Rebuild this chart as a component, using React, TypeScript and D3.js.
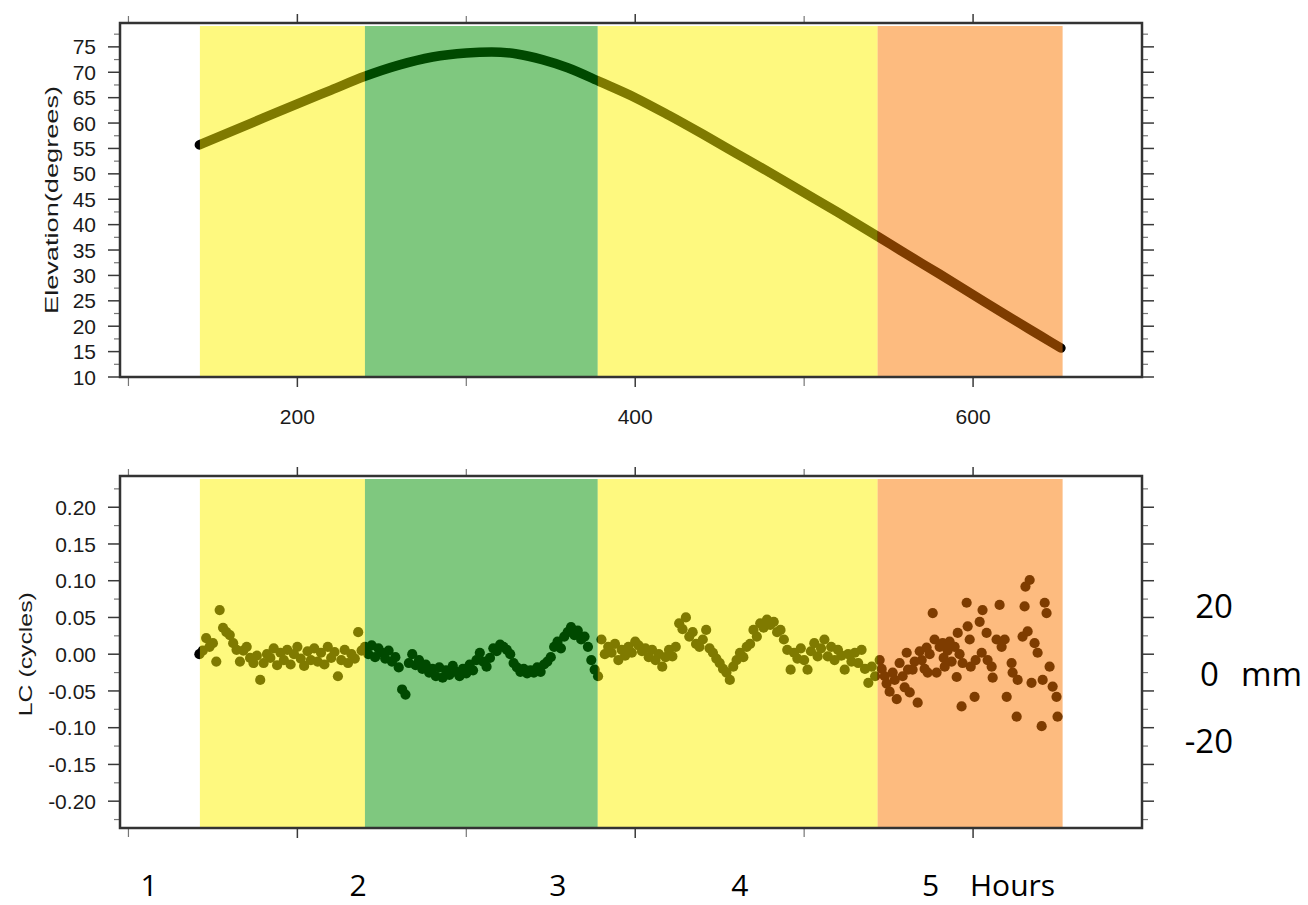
import React from 'react';
import * as d3 from 'd3';

// ---------- data ----------
// elevation curve (x axis units, degrees)
const elevTime = [142, 160, 180, 200, 220, 240, 260, 280, 300, 315, 330, 345, 360, 380, 400, 420, 440, 460, 480, 500, 520, 543, 560, 580, 600, 620, 640, 652];
const elevValue = [55.7, 58.2, 61, 63.8, 66.5, 69.2, 71.4, 73, 73.8, 74, 73.6, 72.5, 70.9, 68, 65, 61.5, 57.8, 54, 50.2, 46.3, 42.4, 37.8, 34.3, 30.3, 26.2, 22.1, 18.1, 15.7];

// LC residuals, regular sampling from lcStart every lcStep (milli-cycles)
const lcStart = 142;
const lcStep = 2;
const lcMilli = [
  0, 5, 22, 10, 15, -10, 60, 36, 30, 26, 15, 6, -10, 5, 10, -5, -12, -2, -35, -12,
  0, -5, 8, -15, 2, -8, 6, -14, 0, 10, -6, -16, 4, -8, 8, -10, 2, -14, 10, -5,
  3, -30, -8, 6, -12, 0, -6, 30, 5, 10,
  0, 12, -4, 8, 2, -6, 5, -10, -4, -18, -48, -55, -12, 0, -15, -8, -20, -14, -25, -20,
  -30, -18, -32, -22, -28, -16, -24, -30, -20, -26, -14, -22, -8, 2, -10, -17, -5, 8, 4, 13,
  10, 6, 0, -12, -18, -24, -20, -26, -22, -25, -18, -24, -14, -10, -4, 10, 17, 8, 24, 30,
  37, 26, 32, 20, 24, 10, -8, -21, -30,
  20, 0, 10, 2, 14, -8, 6, -2, 10, 2, 17, 12, 4, 8, -4, 6, -8, 0, -17, -4,
  6, -3, 10, 42, 34, 50, 24, 30, 14, 10, 20, 33, 8, 2, -6, -12, -20, -25, -35, -17,
  -8, 2, -4, 10, 14, 33, 24, 42, 36, 47, 40, 44, 30, 33, 20, 6, -21, 2, -6, 8,
  -8, -21, 4, 15, -3, 8, 20, -3, 10, -8, 6, -2, -21, 0, -10, 2, -12, 6, -20, -39,
  -17, -30,
];

// low-elevation scattered LC residuals (x, milli-cycles)
const lcLowTime = [544.7, 545.9, 547.7, 548.8, 550.6, 552.4, 553.6, 554.8, 556.5, 558.3, 559.5, 560.7, 561.5, 562.5, 564.2, 565.4, 567.2, 568.4, 569.6, 571.3, 572.5, 573.1, 574.3, 576.1, 577.2, 578.4, 580.2, 582, 582.6, 583.2, 584.9, 586.1, 587.3, 589.1, 590.3, 590.9, 592, 593.2, 593.8, 596.2, 596.8, 598, 598.6, 600.9, 601.5, 603.9, 605.1, 605.6, 608, 608.6, 611, 611.6, 613.9, 615.7, 616.9, 618.7, 619.9, 622.8, 623.4, 625.8, 626.4, 629.3, 630.5, 631, 632.3, 633.5, 634.6, 636.4, 638.2, 640.6, 641.2, 642.4, 643.5, 645.3, 647.1, 649.4, 650];
const lcLowMilli = [-8, -20, -30, -40, -51, -25, -35, -61, -12, -30, -45, 2, -21, -52, -21, -10, -66, 4, -8, -20, 9, -25, 0, 56, 20, -25, 10, 15, -5, -17, 5, 17, -10, 10, -31, 29, 0, -71, -12, 70, 38, 20, -17, -58, -8, 44, 2, 60, 29, -8, -17, -32, 20, 67, 10, 20, -58, -12, -25, -85, -35, 24, 65, 92, 31, 101, -39, 15, 2, -98, -35, 70, 56, -17, -44, -58, -85];

// elevation-class bands
const bandStart = [142.3, 240, 377.8, 543.5];
const bandEnd = [240, 377.8, 543.5, 653];
const bandColors = ['#FDF300', '#009100', '#FDF300', '#FB7700'];

// axis ticks
const xMajor = [200, 400, 600];
const xMinor = [100, 300, 500];
const elevMajor = [10, 15, 20, 25, 30, 35, 40, 45, 50, 55, 60, 65, 70, 75];
const elevMinor = [12.5, 17.5, 22.5, 27.5, 32.5, 37.5, 42.5, 47.5, 52.5, 57.5, 62.5, 67.5, 72.5, 77.5];
const lcMajorHundredths = [-20, -15, -10, -5, 0, 5, 10, 15, 20];
const lcMinorThousandths = [-225, -175, -125, -75, -25, 25, 75, 125, 175, 225];

// annotations
const hourLabels = ['1', '2', '3', '4', '5'];
const hourPos = [112.2, 235.9, 354.2, 461.9, 574.9];
const hourUnit = 'Hours';
const mmLabels = ['20', '0', '-20'];
const mmBaseCycles = [0.049, -0.0437, -0.134];
const mmUnit = 'mm';

// ---------- layout ----------
const L = 120, R = 1142;
const T1 = 23, B1 = 377;
const T2 = 476, B2 = 828;

const xScale = d3.scaleLinear().domain([95, 700]).range([L, R]);
const yElev = d3.scaleLinear().domain([10, 79.7]).range([B1, T1]);
const yLC = d3.scaleLinear().domain([-0.2365, 0.2425]).range([B2, T2]);

const AX_FONT = '"Liberation Sans", Arial, Helvetica, sans-serif';
const ANN_FONT = '"Open Sans", "Noto Sans", sans-serif';
const TICK = '#3a3a3a';

function Frame({ top, bottom, yScale, yMajor, yMinor, fmt }) {
  return (
    <g>
      {xMajor.map((v) => (
        <g key={'xM' + v}>
          <line x1={xScale(v)} x2={xScale(v)} y1={top} y2={top - 9} stroke={TICK} strokeWidth={1.5} />
          <line x1={xScale(v)} x2={xScale(v)} y1={bottom} y2={bottom + 10} stroke={TICK} strokeWidth={1.5} />
        </g>
      ))}
      {xMinor.map((v) => (
        <g key={'xm' + v}>
          <line x1={xScale(v)} x2={xScale(v)} y1={top} y2={top - 7} stroke="#777" strokeWidth={1.2} />
          <line x1={xScale(v)} x2={xScale(v)} y1={bottom} y2={bottom + 9} stroke="#777" strokeWidth={1.2} />
        </g>
      ))}
      {yMajor.map((v) => (
        <g key={'yM' + v}>
          <line x1={L} x2={L - 12} y1={yScale(v)} y2={yScale(v)} stroke={TICK} strokeWidth={1.5} />
          <line x1={R} x2={R + 12} y1={yScale(v)} y2={yScale(v)} stroke={TICK} strokeWidth={1.5} />
          <text x={96} y={yScale(v)} dy="0.36em" textAnchor="end" fontFamily={AX_FONT} fontSize={21} fill="#1a1a1a">
            {fmt(v)}
          </text>
        </g>
      ))}
      {yMinor.map((v) => (
        <g key={'ym' + v}>
          <line x1={L} x2={L - 6} y1={yScale(v)} y2={yScale(v)} stroke="#777" strokeWidth={1.2} />
          <line x1={R} x2={R + 6} y1={yScale(v)} y2={yScale(v)} stroke="#777" strokeWidth={1.2} />
        </g>
      ))}
      <rect x={L} y={top} width={R - L} height={bottom - top} fill="none" stroke="#333" strokeWidth={2.5} />
    </g>
  );
}

function Bands({ top, bottom }) {
  return (
    <g>
      {bandStart.map((s, i) => (
        <rect
          key={i}
          x={xScale(s)}
          y={top + 3}
          width={xScale(bandEnd[i]) - xScale(s)}
          height={bottom - top - 4}
          fill={bandColors[i]}
          fillOpacity={0.5}
        />
      ))}
    </g>
  );
}

export default function App() {
  const elevLine = d3
    .line<number>()
    .x((_, i) => xScale(elevTime[i]))
    .y((d) => yElev(d))
    .curve(d3.curveMonotoneX);

  const lcPoints = lcMilli.map((m, i) => ({ t: lcStart + i * lcStep, v: m / 1000 }));
  const lowPoints = lcLowTime.map((t, i) => ({ t, v: lcLowMilli[i] / 1000 }));
  const allPoints = lcPoints.concat(lowPoints);

  return (
    <svg width={1308} height={905} style={{ position: 'absolute', left: 0, top: 0, background: '#fff' }}>
      <rect x={0} y={0} width={1308} height={905} fill="#fff" />

      {/* ---- top panel ---- */}
      <path d={elevLine(elevValue) || ''} fill="none" stroke="#000" strokeWidth={9.5} strokeLinecap="round" strokeLinejoin="round" />
      <Bands top={T1} bottom={B1} />
      <Frame top={T1} bottom={B1} yScale={yElev} yMajor={elevMajor} yMinor={elevMinor} fmt={(v) => String(v)} />
      {xMajor.map((v) => (
        <text key={'xl' + v} x={xScale(v)} y={424} textAnchor="middle" fontFamily={AX_FONT} fontSize={21} fill="#1a1a1a">
          {v}
        </text>
      ))}
      <text
        transform={`translate(58,${(T1 + B1) / 2}) rotate(-90)`}
        textAnchor="middle"
        fontFamily={AX_FONT}
        fontSize={18}
        fill="#1a1a1a"
        textLength={228}
        lengthAdjust="spacingAndGlyphs"
      >
        Elevation(degrees)
      </text>

      {/* ---- bottom panel ---- */}
      {allPoints.map((p, i) => (
        <circle key={i} cx={xScale(p.t)} cy={yLC(p.v)} r={5.1} fill="#000" />
      ))}
      <Bands top={T2} bottom={B2} />
      <Frame
        top={T2}
        bottom={B2}
        yScale={yLC}
        yMajor={lcMajorHundredths.map((h) => h / 100)}
        yMinor={lcMinorThousandths.map((h) => h / 1000)}
        fmt={(v) => v.toFixed(2)}
      />
      <text
        transform={`translate(32,${yLC(0)}) rotate(-90)`}
        textAnchor="middle"
        fontFamily={AX_FONT}
        fontSize={19}
        fill="#1a1a1a"
        textLength={124}
        lengthAdjust="spacingAndGlyphs"
      >
        LC (cycles)
      </text>

      {/* ---- annotations ---- */}
      {hourLabels.map((h, i) => (
        <text key={'h' + h} x={xScale(hourPos[i])} y={896} textAnchor="middle" fontFamily={ANN_FONT} fontSize={30} fill="#000">
          {h}
        </text>
      ))}
      <text x={970} y={896} fontFamily={ANN_FONT} fontSize={30} fill="#000">
        {hourUnit}
      </text>
      {mmLabels.map((m, i) =>
        i === 1 ? (
          <text key={'mm' + i} x={1200} y={yLC(mmBaseCycles[i])} textAnchor="start" fontFamily={ANN_FONT} fontSize={33} fill="#000">
            {m}
          </text>
        ) : (
          <text key={'mm' + i} x={1233} y={yLC(mmBaseCycles[i])} textAnchor="end" fontFamily={ANN_FONT} fontSize={33} fill="#000">
            {m}
          </text>
        )
      )}
      <text x={1302} y={yLC(mmBaseCycles[1])} textAnchor="end" fontFamily={ANN_FONT} fontSize={33} fill="#000">
        {mmUnit}
      </text>
    </svg>
  );
}
